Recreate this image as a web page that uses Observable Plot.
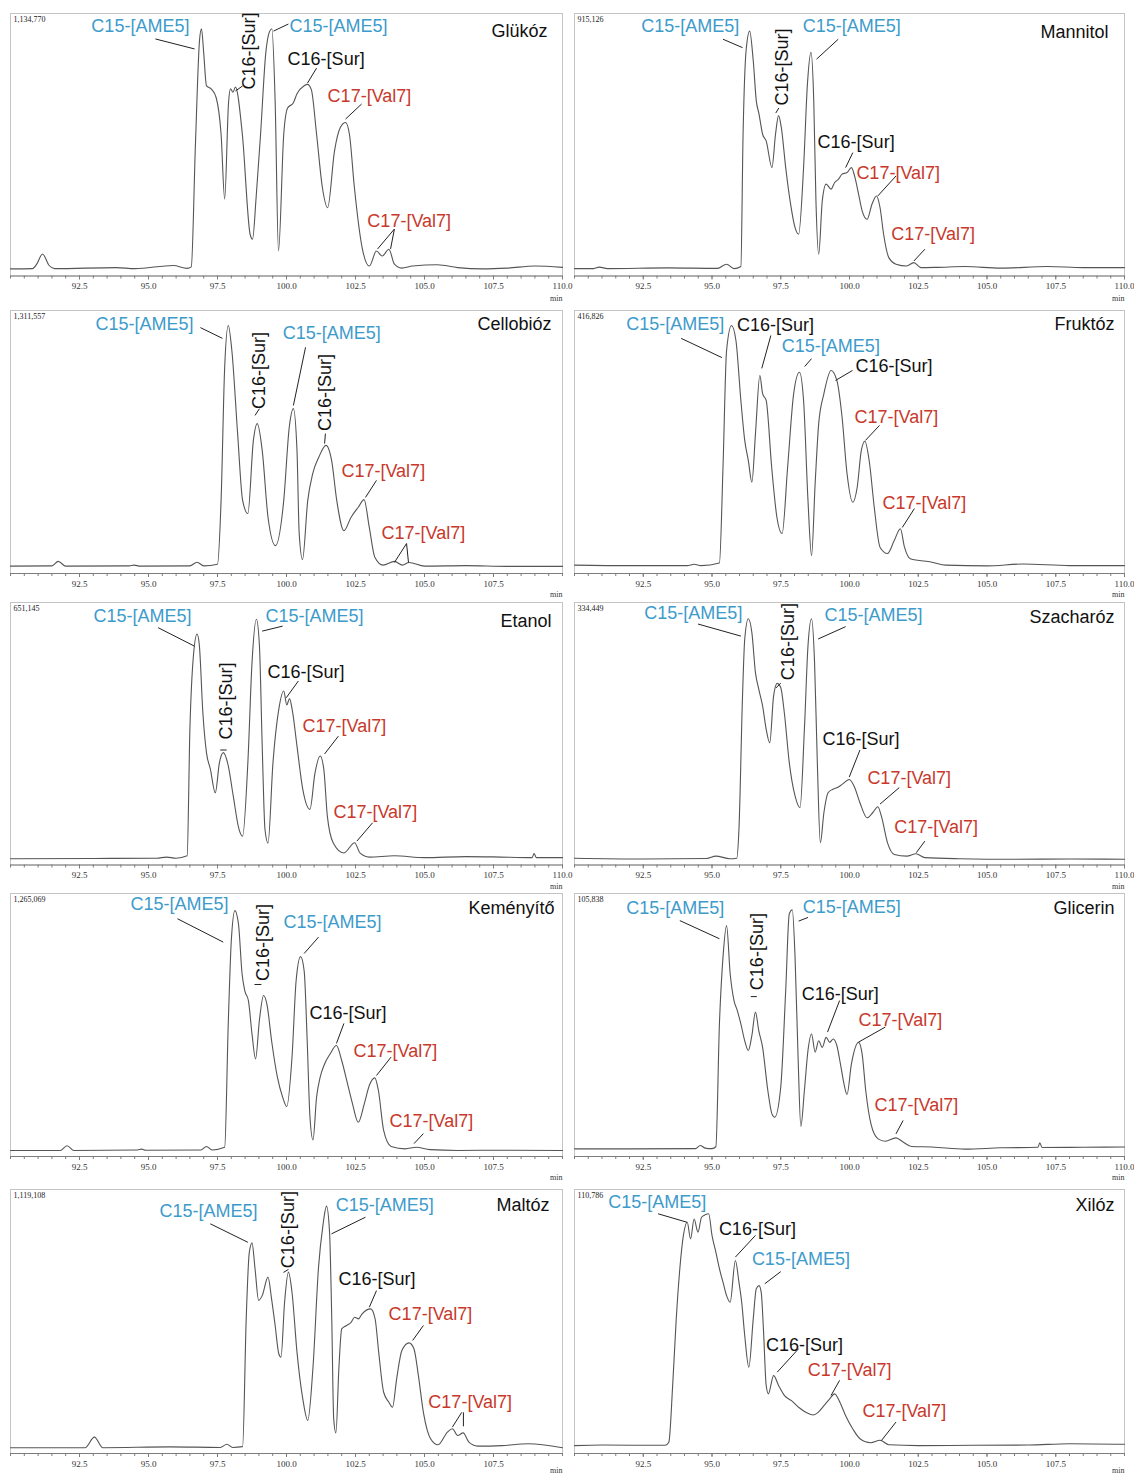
<!DOCTYPE html>
<html><head><meta charset="utf-8">
<script src="https://cdn.jsdelivr.net/npm/d3@7"></script>
<script src="https://cdn.jsdelivr.net/npm/@observablehq/plot@0.6"></script>
<style>
body{margin:0;background:#fff;}
#root{position:relative;width:1134px;height:1476px;overflow:hidden;background:#fff;}
.panel{position:absolute;}
</style></head>
<body><div id="root"></div>
<script>
// ---- retention time (min) and signal (% of full scale) ----
const glukozTime=[90.0,90.8,90.95,91.16,91.4,91.6,93.84,94.5,95.9,96.4,96.55,96.7,96.85,96.92,97.0,97.1,97.28,97.45,97.63,97.76,97.9,97.97,98.06,98.15,98.4,98.68,98.77,98.9,99.06,99.25,99.38,99.47,99.59,99.71,99.9,100.04,100.25,100.38,100.64,100.76,100.9,101.09,101.3,101.49,101.74,101.95,102.14,102.28,102.46,102.74,103.0,103.26,103.47,103.71,103.91,104.17,104.57,105.47,106.2,107.1,108.0,109.0,110.0];
const glukozSignal=[2.7,2.8,4.5,8.4,4.0,2.8,3.2,2.8,4.0,2.9,3.5,50,90,94.2,85,72.5,71.2,68,54,29.3,66,71.3,70,72,54,16,14,30,54,85,93,94.2,66,9.5,54,64,66,69.4,72.5,73,71,54,33.7,26,47.7,56.6,58.5,54,33.7,10.8,3.8,9.5,7.6,10.2,4.5,3.0,3.8,4.3,3.2,2.7,3.0,3.8,3.3];

const mannitolTime=[90.0,90.7,90.9,91.2,93.4,95.2,95.53,95.8,96.05,96.13,96.24,96.37,96.5,96.61,96.71,96.84,96.97,97.18,97.31,97.42,97.52,97.68,97.84,98.02,98.15,98.33,98.47,98.6,98.7,98.78,98.88,99.01,99.15,99.33,99.46,99.6,99.73,99.91,100.07,100.2,100.33,100.46,100.64,100.82,100.98,101.11,101.24,101.43,101.69,102.08,102.34,102.6,103.2,104.2,105.5,107.2,108.5,110.0];
const mannitolSignal=[2.8,2.8,3.4,2.8,3.1,2.9,4.5,2.8,3.6,54,85.9,93.3,82,66.8,61.7,54,51.5,41.3,54,61.1,56.6,41.3,28.6,18.4,15.9,41.3,73.1,85.2,66.8,28.6,8.3,28.6,35,33.1,35.6,36.9,38.8,39.4,41.3,37.5,31.2,24.8,21.6,27.4,30.5,26.1,15.9,7,4.5,3.8,5.1,3.2,3.3,3.6,3.0,3.6,3.2,3.2];

const cellobiozTime=[90.0,91.5,91.73,92.0,94.3,94.48,94.7,96.5,96.76,97.0,97.5,97.63,97.76,97.89,98.02,98.23,98.41,98.6,98.8,98.94,99.12,99.33,99.6,99.9,100.1,100.25,100.38,100.46,100.58,100.77,100.95,101.17,101.43,101.64,101.82,102.08,102.34,102.6,102.81,103.0,103.2,103.5,103.91,104.2,104.44,105.0,106.5,108.0,110.0];
const cellobiozSignal=[2.8,2.9,4.6,2.8,2.9,3.2,2.8,2.9,4.3,2.9,3.5,27.8,78.4,94.3,84.8,53,27.8,22.8,50.6,57,46.8,21.4,10.6,27.8,55.6,62.7,46.8,15.2,5.3,27.8,38,44.2,48.7,42.6,27.8,16.3,21.4,25.2,28.1,17.5,6.2,3.2,4.6,3.2,4.2,2.8,3.0,2.7,2.7];

const fruktozTime=[90.0,92.0,94.1,94.35,94.6,95.27,95.4,95.53,95.71,95.87,96.05,96.19,96.32,96.45,96.58,96.74,96.84,96.97,97.17,97.36,97.55,97.75,97.97,98.18,98.33,98.49,98.62,98.75,98.88,99.07,99.33,99.54,99.73,99.91,100.12,100.28,100.43,100.56,100.72,100.9,101.11,101.38,101.63,101.85,102.0,102.21,103.0,103.5,105.0,106.3,108.0,110.0];
const fruktozSignal=[3.2,3.0,3.0,3.5,3.0,4,40.4,84.8,94.3,88.6,65.8,50.6,43,34.7,53,75.3,68.4,65.8,40.4,21.4,15.2,40.4,68.4,76.5,65.8,27.8,6.8,34,57,68.4,77.2,73.4,59.4,38,27.1,32.8,46.8,50.3,42.6,25.2,10,7.6,12.6,17,10,5.6,4.3,3.2,2.9,3.6,3.0,3.0];

const etanolTime=[90.0,93.0,95.3,95.65,96.0,96.4,96.5,96.63,96.76,96.84,96.97,97.1,97.24,97.42,97.57,97.71,97.89,98.07,98.28,98.41,98.6,98.75,98.91,99.02,99.12,99.22,99.33,99.51,99.72,99.9,100.01,100.11,100.22,100.38,100.59,100.85,101.03,101.22,101.35,101.48,101.69,102.08,102.47,102.66,103.0,103.91,105.0,106.5,107.5,108.9,108.97,109.05,110.0];
const etanolSignal=[2.4,2.5,2.6,3.0,2.6,3.5,51.8,80,88,84,58,42.8,36.6,27.5,39,42.8,37.8,26.3,13.6,11,39,77,93.6,83.4,45.3,13.6,8.3,39,59.3,66.3,61,63.4,58.3,45.3,28.8,21.2,34.9,41.5,36.6,18.6,8.5,4.6,8.5,4.6,3.0,3.5,2.8,3.2,3.1,2.8,4.4,2.8,2.8];

const szacharozTime=[90.0,92.5,94.8,95.14,95.65,95.9,95.98,96.11,96.19,96.32,96.45,96.58,96.7,96.84,96.97,97.1,97.24,97.37,97.5,97.63,97.81,98.02,98.2,98.36,98.49,98.62,98.73,98.83,98.94,99.07,99.22,99.38,99.54,99.73,99.99,100.17,100.38,100.64,100.85,101.03,101.16,101.38,101.63,102.08,102.42,102.74,104.0,106.0,108.0,110.0];
const szacharozSignal=[2.6,2.3,2.5,3.4,2.4,2.6,13.6,64.4,86,93.8,88.5,73.3,67,60.6,51.7,46.6,64.4,69.2,67.6,58,39,26.3,21.8,51.7,83.4,93.8,77,39,8.5,20,27.5,28.8,29.4,30.7,32.6,30,23.7,18,20,22.2,18.6,8.5,4,3.4,4.3,2.8,2.4,2.2,2.3,2.2];

const kemenyitoTime=[90.0,91.8,92.05,92.3,94.6,94.75,94.9,96.9,97.1,97.3,97.76,97.89,98.0,98.13,98.26,98.39,98.49,98.62,98.75,98.88,99.02,99.17,99.3,99.46,99.67,99.86,100.01,100.2,100.35,100.51,100.64,100.75,100.85,100.96,101.09,101.22,101.38,101.58,101.81,102.0,102.21,102.39,102.6,102.82,103.0,103.2,103.33,103.52,103.79,104.3,104.7,105.2,106.2,108.0,110.0];
const kemenyitoSignal=[2.3,2.3,4.1,2.3,2.5,2.8,2.4,2.5,3.8,2.5,3.5,50.6,82,93.5,88.4,69.5,63,59.3,46.6,37.1,52,61.2,57.4,44,30.2,22.6,19,37.8,67,76,70.6,44,15,6.3,22.6,30.2,35.2,39,42.2,36.5,27.7,20.1,13,20.1,27,29.9,25.1,9.9,3.8,2.9,3.5,2.6,2.3,2.4,2.3];

const glicerinTime=[90.0,92.0,94.4,94.57,94.75,95.0,95.14,95.27,95.4,95.53,95.66,95.8,95.92,96.05,96.19,96.32,96.45,96.58,96.7,96.84,97.03,97.18,97.28,97.5,97.68,97.81,97.92,98.02,98.13,98.23,98.36,98.49,98.62,98.75,98.88,99.01,99.15,99.28,99.41,99.54,99.67,99.8,99.91,100.07,100.33,100.46,100.59,100.78,101.04,101.3,101.69,101.95,102.26,103.0,104.2,105.5,106.85,106.92,107.0,108.5,110.0];
const glicerinSignal=[2.9,2.9,3.0,4.2,3.2,3.0,3.7,50.4,75.8,87.8,69.6,59.3,55.5,50.4,44,40.3,46,54.9,47.9,41.5,25.1,16.2,14.9,26.4,63.1,92.3,93.8,75.8,37.8,11.4,25.1,40.3,46.6,39.7,44,41.5,45.3,43.4,44.7,42.2,35.2,27.6,23.6,35.2,43.4,38.9,25.1,12.4,6.7,5.8,7.1,5.5,3.8,3.6,2.8,3.3,3.5,5.2,3.4,3.5,3.6];

const maltozTime=[90.0,92.7,93.04,93.35,95.8,97.6,97.84,98.05,98.41,98.54,98.65,98.75,98.86,98.99,99.12,99.33,99.46,99.59,99.72,99.8,99.93,100.07,100.2,100.38,100.59,100.77,100.96,101.16,101.32,101.45,101.56,101.64,101.71,101.79,101.9,102.0,102.16,102.34,102.47,102.61,102.74,103.05,103.21,103.34,103.52,103.71,103.84,103.99,104.18,104.44,104.62,104.78,104.96,105.22,105.49,105.83,106.01,106.2,106.4,106.61,106.92,107.8,108.76,110.0];
const maltozSignal=[2.2,2.2,6.2,2.2,2.5,2.3,3.5,2.3,2.6,51,76,79.8,70,58,59.8,66.8,58.5,48.4,37.8,36.5,57.2,68.7,61,38.4,20.7,12.5,32.7,70.5,86.4,93.7,83.8,51,13.1,7.8,32.7,47.2,48.4,49.7,51.6,51,52.9,54.8,51,38.4,23.2,19.4,17.5,28.2,39,41.9,39.6,29.4,15.6,5.6,3.3,8.1,9.4,6.8,7.8,4.3,2.8,3.0,3.7,2.2];

const xilozTime=[90.0,91.0,93.3,93.43,93.57,93.7,93.83,93.96,94.1,94.22,94.35,94.49,94.62,94.75,94.88,95.0,95.14,95.27,95.4,95.53,95.66,95.85,95.98,96.08,96.19,96.34,96.5,96.61,96.71,96.79,96.87,96.97,97.05,97.24,97.42,97.63,97.89,98.15,98.41,98.67,98.86,99.07,99.28,99.46,99.65,99.86,100.12,100.38,100.77,101.11,101.43,102.5,104.5,106.5,108.0,110.0];
const xilozSignal=[3.0,3.2,3.1,4.3,25.8,51,70,82.6,87.6,81.3,88.8,83.8,89.5,90.4,90.8,82.6,76.3,70,64.9,59.8,57.3,73.1,64.9,57.3,44.7,32.7,51,62.4,63.6,61,47.2,25.8,22.6,29.5,25.8,22,20,17.5,15.6,14.6,15.6,18.1,20.7,22.6,19.4,14.3,9.3,5.6,4.1,5,3.3,3.0,3.1,3.2,3.7,3.5];

// ---- peak annotations (x in min, y in % of full scale) ----
const glukozLabels=[{text:"C15-[AME5]",x:92.93,y:95.2},{text:"C16-[Sur]",x:98.66,y:85.7,vertical:true},{text:"C15-[AME5]",x:100.11,y:95.2},{text:"C16-[Sur]",x:100.04,y:82.7},{text:"C17-[Val7]",x:101.49,y:68.6},{text:"C17-[Val7]",x:102.93,y:21.0}];
const glukozLeaders=[{x1:95.25,y1:90.3,x2:96.67,y2:86.5},{x1:98.15,y1:70.5,x2:98.41,y2:72.4},{x1:99.53,y1:93.3,x2:100.07,y2:96},{x1:100.76,y1:73.5,x2:101.09,y2:79.2},{x1:102.14,y1:59.8,x2:102.72,y2:65.5},{x1:103.91,y1:17.9,x2:103.3,y2:10.3},{x1:103.91,y1:17.9,x2:103.77,y2:10.3}];

const mannitolLabels=[{text:"C15-[AME5]",x:92.43,y:95.2},{text:"C16-[Sur]",x:97.54,y:79.6,vertical:true},{text:"C15-[AME5]",x:98.3,y:95.2},{text:"C16-[Sur]",x:98.84,y:51.0},{text:"C17-[Val7]",x:100.25,y:39.2},{text:"C17-[Val7]",x:101.52,y:16.0}];
const mannitolLeaders=[{x1:95.4,y1:90.2,x2:96.11,y2:87},{x1:97.32,y1:62.1,x2:97.43,y2:64},{x1:98.8,y1:82.6,x2:99.59,y2:90.2},{x1:99.86,y1:41.3,x2:100.12,y2:47},{x1:101.03,y1:30.5,x2:101.69,y2:38.1},{x1:102.34,y1:5.7,x2:102.74,y2:10.2}];

const cellobiozLabels=[{text:"C15-[AME5]",x:93.08,y:94.7},{text:"C16-[Sur]",x:99.02,y:77.2,vertical:true},{text:"C15-[AME5]",x:99.86,y:91.3},{text:"C16-[Sur]",x:101.41,y:68.8,vertical:true},{text:"C17-[Val7]",x:101.99,y:38.8},{text:"C17-[Val7]",x:103.44,y:15.2}];
const cellobiozLeaders=[{x1:96.88,y1:93.5,x2:97.68,y2:89.4},{x1:98.86,y1:60.1,x2:99.02,y2:62.7},{x1:100.25,y1:63.9,x2:100.69,y2:86},{x1:101.38,y1:49.4,x2:101.41,y2:53.2},{x1:102.86,y1:28.9,x2:103.26,y2:35.4},{x1:104.35,y1:11.4,x2:103.91,y2:4.2},{x1:104.35,y1:11.4,x2:104.42,y2:4.2}];

const fruktozLabels=[{text:"C15-[AME5]",x:91.88,y:94.7},{text:"C16-[Sur]",x:95.91,y:94.3},{text:"C15-[AME5]",x:97.54,y:86.3},{text:"C16-[Sur]",x:100.22,y:78.7},{text:"C17-[Val7]",x:100.18,y:59.3},{text:"C17-[Val7]",x:101.2,y:26.6}];
const fruktozLeaders=[{x1:93.88,y1:89.4,x2:95.36,y2:82.1},{x1:96.81,y1:78,x2:97.14,y2:90.5},{x1:98.37,y1:78.7,x2:98.62,y2:81.7},{x1:99.49,y1:73.4,x2:100.11,y2:77.2},{x1:100.58,y1:50.6,x2:101.09,y2:56.3},{x1:101.92,y1:17.5,x2:102.36,y2:24.7}];

const etanolLabels=[{text:"C15-[AME5]",x:93.01,y:94.9},{text:"C16-[Sur]",x:97.83,y:62.5,vertical:true},{text:"C15-[AME5]",x:99.24,y:94.9},{text:"C16-[Sur]",x:99.31,y:73.5},{text:"C17-[Val7]",x:100.58,y:53.0},{text:"C17-[Val7]",x:101.7,y:20.2}];
const etanolLeaders=[{x1:95.35,y1:90.4,x2:96.66,y2:83.4},{x1:97.6,y1:43.8,x2:97.83,y2:43.8},{x1:99.12,y1:89.1,x2:99.86,y2:91},{x1:99.99,y1:63.7,x2:100.43,y2:70.1},{x1:101.38,y1:42.3,x2:101.88,y2:49.1},{x1:102.55,y1:9.1,x2:103.12,y2:16.1}];

const szacharozLabels=[{text:"C15-[AME5]",x:92.54,y:96.0},{text:"C16-[Sur]",x:97.79,y:85.1,vertical:true},{text:"C15-[AME5]",x:99.09,y:95.2},{text:"C16-[Sur]",x:99.02,y:48.0},{text:"C17-[Val7]",x:100.65,y:33.1},{text:"C17-[Val7]",x:101.63,y:14.5}];
const szacharozLeaders=[{x1:94.49,y1:91.8,x2:96.05,y2:87.2},{x1:97.32,y1:67.4,x2:97.5,y2:69.3},{x1:98.86,y1:86.1,x2:99.86,y2:90.8},{x1:99.99,y1:33.5,x2:100.38,y2:43.8},{x1:101.11,y1:23.2,x2:101.81,y2:29.5},{x1:102.43,y1:4.7,x2:102.74,y2:9.1}];

const kemenyitoLabels=[{text:"C15-[AME5]",x:94.35,y:95.8},{text:"C16-[Sur]",x:99.17,y:81.4,vertical:true},{text:"C15-[AME5]",x:99.89,y:89.0},{text:"C16-[Sur]",x:100.83,y:54.4},{text:"C17-[Val7]",x:102.43,y:39.9},{text:"C17-[Val7]",x:103.73,y:13.3}];
const kemenyitoLeaders=[{x1:96.05,y1:90.4,x2:97.71,y2:81.5},{x1:98.84,y1:65.4,x2:99.09,y2:65.4},{x1:100.64,y1:77.2,x2:101.16,y2:83.4},{x1:101.81,y1:43,x2:102.08,y2:50.6},{x1:103.26,y1:30.8,x2:103.79,y2:37.8},{x1:104.62,y1:4.9,x2:104.96,y2:8.7}];

const glicerinLabels=[{text:"C15-[AME5]",x:91.88,y:94.3},{text:"C16-[Sur]",x:96.63,y:77.9,vertical:true},{text:"C15-[AME5]",x:98.3,y:94.7},{text:"C16-[Sur]",x:98.26,y:61.6},{text:"C17-[Val7]",x:100.33,y:51.7},{text:"C17-[Val7]",x:100.91,y:19.4}];
const glicerinLeaders=[{x1:93.83,y1:89.7,x2:95.27,y2:82.8},{x1:96.41,y1:60.8,x2:96.63,y2:60.8},{x1:98.15,y1:89.5,x2:98.49,y2:90.9},{x1:99.2,y1:47.3,x2:99.64,y2:59.3},{x1:100.33,y1:43.5,x2:101.3,y2:49.2},{x1:101.69,y1:8.6,x2:101.95,y2:13.7}];

const maltozLabels=[{text:"C15-[AME5]",x:95.4,y:91.7},{text:"C16-[Sur]",x:100.07,y:84.8,vertical:true},{text:"C15-[AME5]",x:101.78,y:93.9},{text:"C16-[Sur]",x:101.88,y:65.9},{text:"C17-[Val7]",x:103.7,y:52.7},{text:"C17-[Val7]",x:105.14,y:19.3}];
const maltozLeaders=[{x1:97.24,y1:87,x2:98.6,y2:80},{x1:99.89,y1:68.6,x2:100.07,y2:69.7},{x1:101.63,y1:83.2,x2:102.86,y2:89.5},{x1:103.0,y1:55.4,x2:103.26,y2:61.7},{x1:104.57,y1:42.8,x2:104.96,y2:48.5},{x1:106.01,y1:10,x2:106.35,y2:15.6},{x1:106.41,y1:10.3,x2:106.41,y2:15.6}];

const xilozLabels=[{text:"C15-[AME5]",x:91.23,y:95.1},{text:"C16-[Sur]",x:95.25,y:84.8},{text:"C15-[AME5]",x:96.45,y:73.5},{text:"C16-[Sur]",x:96.96,y:40.9},{text:"C17-[Val7]",x:98.48,y:31.4},{text:"C17-[Val7]",x:100.47,y:15.9}];
const xilozLeaders=[{x1:93.04,y1:90.8,x2:94.09,y2:87.6},{x1:95.85,y1:74.4,x2:96.58,y2:82.6},{x1:96.92,y1:64.3,x2:97.5,y2:68.9},{x1:97.37,y1:30.8,x2:98.15,y2:39.7},{x1:99.33,y1:22,x2:99.64,y2:27.7},{x1:101.16,y1:4.9,x2:101.69,y2:11.9}];

// ---- panel metadata ----
const sampleNames=["Glükóz","Mannitol","Cellobióz","Fruktóz","Etanol","Szacharóz","Keményítő","Glicerin","Maltóz","Xilóz"];
const fullScale=["1,134,770","915,126","1,311,557","416,826","651,145","334,449","1,265,069","105,838","1,119,108","110,786"];
const majorTicks=[92.5,95,97.5,100,102.5,105,107.5,110];
const minorTicks=d3.range(90,110.001,0.5);

const panels=[
 {time:glukozTime,signal:glukozSignal,labels:glukozLabels,leaders:glukozLeaders,show110:true,tdx:-15,tdy:17.5},
 {time:mannitolTime,signal:mannitolSignal,labels:mannitolLabels,leaders:mannitolLeaders,show110:true,tdx:-16,tdy:18.5},
 {time:cellobiozTime,signal:cellobiozSignal,labels:cellobiozLabels,leaders:cellobiozLeaders,show110:false,tdx:-11,tdy:14},
 {time:fruktozTime,signal:fruktozSignal,labels:fruktozLabels,leaders:fruktozLeaders,show110:true,tdx:-10,tdy:14},
 {time:etanolTime,signal:etanolSignal,labels:etanolLabels,leaders:etanolLeaders,show110:true,tdx:-11,tdy:18.5},
 {time:szacharozTime,signal:szacharozSignal,labels:szacharozLabels,leaders:szacharozLeaders,show110:true,tdx:-10,tdy:14.5},
 {time:kemenyitoTime,signal:kemenyitoSignal,labels:kemenyitoLabels,leaders:kemenyitoLeaders,show110:false,tdx:-8,tdy:15},
 {time:glicerinTime,signal:glicerinSignal,labels:glicerinLabels,leaders:glicerinLeaders,show110:true,tdx:-10,tdy:15},
 {time:maltozTime,signal:maltozSignal,labels:maltozLabels,leaders:maltozLeaders,show110:false,tdx:-13,tdy:16},
 {time:xilozTime,signal:xilozSignal,labels:xilozLabels,leaders:xilozLeaders,show110:false,tdx:-10,tdy:16}
];

// ---- layout ----
const rowTop=[12.5,310,601.5,893,1189];
const rowAxis=[275,573,864,1156,1453];
const minDy=[22,21,21,21,17];
const colLeft=[0,563];
const MT=4, MB=28;
const SANS='"Liberation Sans", Arial, Helvetica, sans-serif';
const SERIF='"Liberation Serif", "Times New Roman", serif';
const labelColor=t=>t.startsWith("C15")?"#3d9bcb":t.startsWith("C17")?"#c8382b":"#111111";

const root=document.getElementById("root");
panels.forEach((p,i)=>{
  const row=Math.floor(i/2), col=i%2;
  const h=rowAxis[row]-rowTop[row];
  const data=p.time.map((t,k)=>({t,v:p.signal[k]}));
  const ticks=p.show110?majorTicks:majorTicks.slice(0,-1);
  const fig=Plot.plot({
    width:567,height:MT+h+MB,
    marginTop:MT,marginBottom:MB,marginLeft:col?11:10,marginRight:col?6:5,
    x:{domain:[90,110]},
    y:{domain:[0,100],axis:null},
    color:{type:"identity"},
    style:{background:"transparent",overflow:"visible",fontFamily:SANS},
    marks:[
      Plot.frame({stroke:"#c4c4c4"}),
      Plot.ruleY([0],{stroke:"#7c7c7c"}),
      Plot.axisX(minorTicks,{tickSize:3,tickFormat:()=>"",label:null,stroke:"#7c7c7c"}),
      Plot.axisX(ticks,{tickSize:4,tickPadding:3,tickFormat:d3.format(".1f"),label:null,fontSize:9,fontFamily:SERIF,stroke:"#7c7c7c",fill:"#333"}),
      Plot.line(data,{x:"t",y:"v",curve:"monotone-x",stroke:"#555",strokeWidth:1.1}),
      Plot.link(p.leaders,{x1:"x1",y1:"y1",x2:"x2",y2:"y2",stroke:"#222",strokeWidth:1}),
      Plot.text(p.labels.filter(d=>!d.vertical),{x:"x",y:"y",text:"text",textAnchor:"start",fill:d=>labelColor(d.text),fontSize:18,fontFamily:SANS}),
      Plot.text(p.labels.filter(d=>d.vertical),{x:"x",y:"y",text:"text",rotate:-90,textAnchor:"middle",fill:d=>labelColor(d.text),fontSize:18,fontFamily:SANS}),
      Plot.text([sampleNames[i]],{text:d=>d,frameAnchor:"top-right",dx:p.tdx,dy:p.tdy,textAnchor:"end",lineAnchor:"middle",fontSize:18,fontFamily:SANS,fill:"#111"}),
      Plot.text([fullScale[i]],{text:d=>d,frameAnchor:"top-left",dx:3,dy:5.5,textAnchor:"start",lineAnchor:"middle",fontSize:8,fontFamily:SERIF,fill:"#222"}),
      Plot.text(["min"],{text:d=>d,frameAnchor:"bottom-right",dy:minDy[row],textAnchor:"end",lineAnchor:"middle",fontSize:8,fontFamily:SERIF,fill:"#333"})
    ]
  });
  const div=document.createElement("div");
  div.className="panel";
  div.style.left=colLeft[col]+"px";
  div.style.top=(rowTop[row]-MT)+"px";
  div.appendChild(fig);
  root.appendChild(div);
});
</script></body></html>
